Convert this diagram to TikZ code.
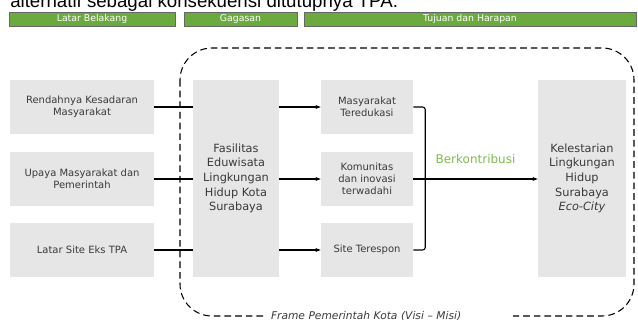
\documentclass[tikz,border=0pt]{standalone}
\usepackage{fontspec}
\setmainfont{DejaVu Sans}
\newfontfamily\captfont{Liberation Sans}
\usetikzlibrary{calc, arrows.meta}

\definecolor{barGreen}{HTML}{6BAA3E}
\definecolor{boxGray}{HTML}{E6E6E6}
\definecolor{textGray}{HTML}{3A3A3A}
\definecolor{labelGreen}{HTML}{7DBB4F}

% one pixel of the layout grid
\newdimen\pxu \pxu=0.75pt

\begin{document}
\begin{tikzpicture}[x=0.75pt, y=-0.75pt,
    bar/.style={draw=gray!80!black, fill=barGreen, text=white, font=\fontsize{7}{8}\selectfont, minimum height=14\pxu, inner sep=0pt},
    box/.style={fill=boxGray, text=textGray, align=center, inner sep=0pt, font=\fontsize{7.5}{9}\selectfont},
    smallbox/.style={box, minimum height=54\pxu},
    bigbox/.style={box, minimum height=197\pxu, font=\fontsize{8.5}{11}\selectfont},
    link/.style={line width=0.8pt},
    arr/.style={link, -{Stealth[length=4pt, width=3pt]}}]

    \useasboundingbox (0,0) rectangle (638,320);

    % Caption line that runs off the top edge
    \node[anchor=base west, inner sep=0pt, font=\captfont\fontsize{14}{16}\selectfont] (cap) at (10,8) {alternatif sebagai konsekuensi ditutupnya TPA.};

    % --- Header bars ---
    \node[bar, minimum width=166\pxu] (hLatar) at (92,19) {Latar Belakang};
    \node[bar, minimum width=113\pxu] (hGagasan) at (240.5,19) {Gagasan};
    \node[bar, minimum width=332\pxu] (hTujuan) at (470,19) {Tujuan dan Harapan};

    % Dashed frame round the middle and right columns
    \draw[line width=0.8pt, dash pattern=on 5pt off 3pt, rounded corners=24pt] (180,48) rectangle (634,316);
    \node[fill=white, inner sep=0pt, minimum height=12\pxu, minimum width=248\pxu, text width=236\pxu, align=left,
          font=\itshape\fontsize{8}{9}\selectfont, text=textGray] (frame) at (389,316) {Frame Pemerintah Kota (Visi -- Misi)};

    % --- Left column: background ---
    \node[smallbox, minimum width=144\pxu] (rendah) at (82,107) {Rendahnya Kesadaran\\Masyarakat};
    \node[smallbox, minimum width=144\pxu] (upaya) at (82,179) {Upaya Masyarakat dan\\Pemerintah};
    \node[smallbox, minimum width=144\pxu] (site) at (82,250) {Latar Site Eks TPA};

    % --- Idea ---
    \node[bigbox, minimum width=86\pxu] (fasilitas) at (236,178.5) {Fasilitas\\Eduwisata\\Lingkungan\\Hidup Kota\\Surabaya};

    % --- Outcomes ---
    \node[smallbox, minimum width=92\pxu] (teredukasi) at (367,107) {Masyarakat\\Teredukasi};
    \node[smallbox, minimum width=92\pxu] (komunitas) at (367,179) {Komunitas\\dan inovasi\\terwadahi};
    \node[smallbox, minimum width=92\pxu] (terespon) at (367,250) {Site Terespon};

    \node[bigbox, minimum width=88\pxu] (lestari) at (582,178.5) {Kelestarian\\Lingkungan\\Hidup\\Surabaya\\\textit{Eco-City}};

    % --- Connectors ---
    \foreach \src/\mid in {rendah/teredukasi, upaya/komunitas, site/terespon} {
        \draw[link] (\src.east) -- (\src.east -| fasilitas.west);
        \draw[arr] (\src.east -| fasilitas.east) -- (\mid.west);
    }

    % bracket gathering the three outcomes
    \coordinate (bTop) at ($(teredukasi.east)+(12,0)$);
    \coordinate (bBot) at ($(terespon.east)+(12,0)$);
    \draw[link, rounded corners=2pt] (teredukasi.east) -- (bTop) -- (bBot) -- (terespon.east);
    \draw[arr] (komunitas.east) -- (komunitas.east -| lestari.west)
        node[midway, above=8pt, text=labelGreen, font=\fontsize{9}{10}\selectfont] (kontribusi) {Berkontribusi};
\end{tikzpicture}
\end{document}
